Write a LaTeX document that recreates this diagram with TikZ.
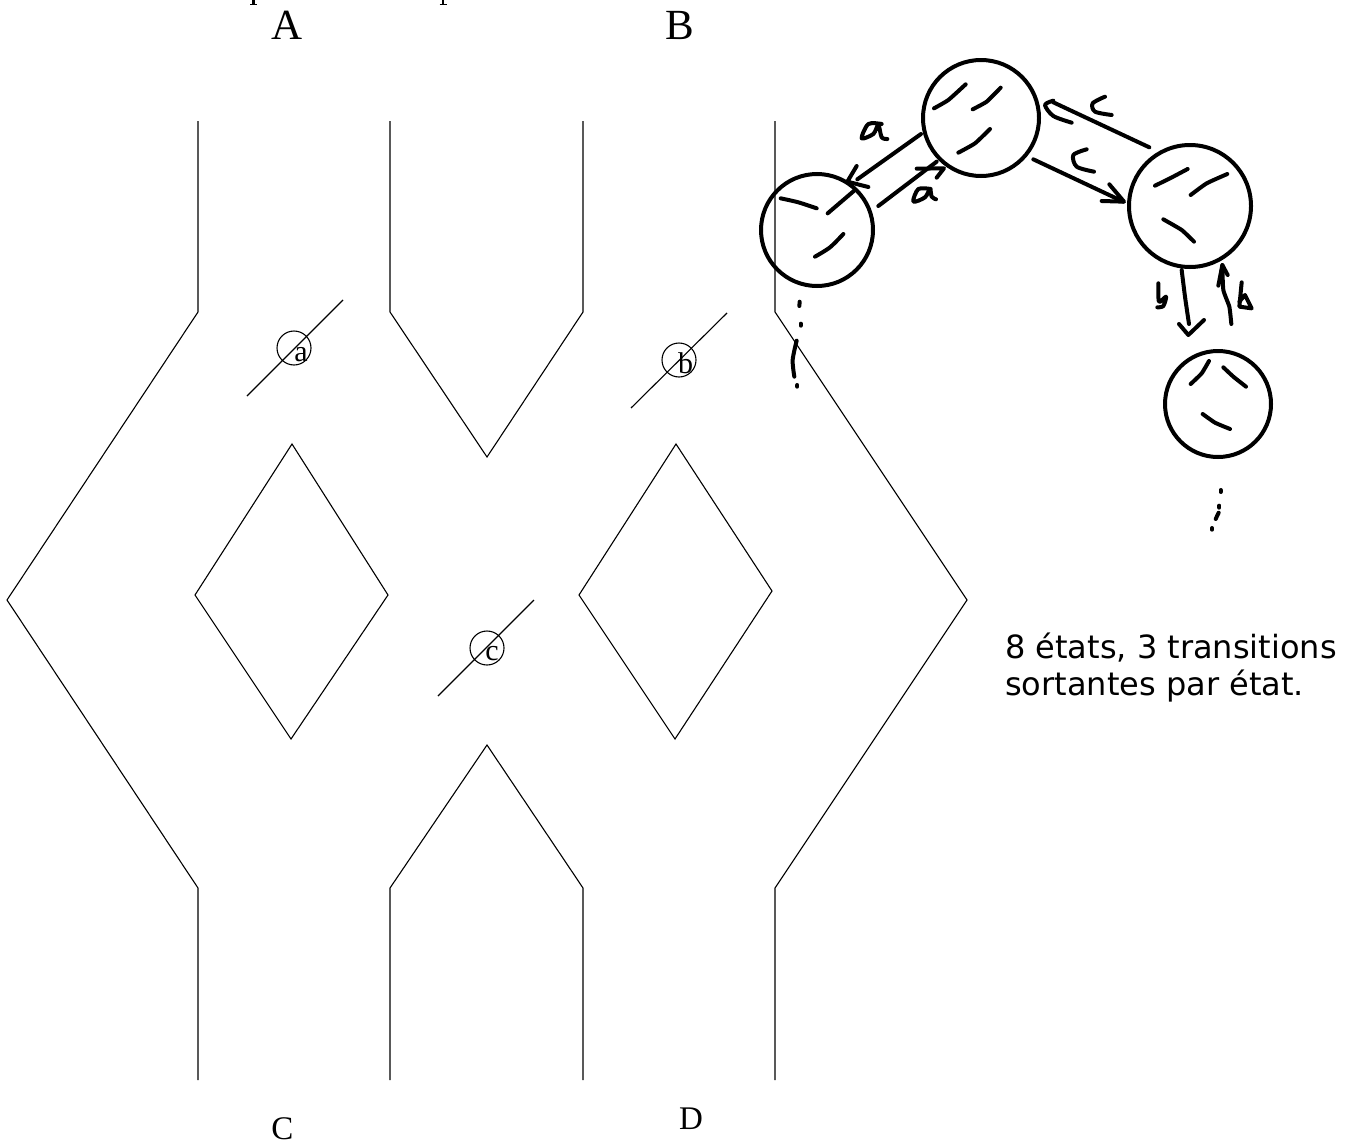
\documentclass[tikz,border=0pt]{standalone}
\usepackage{fontspec}
\setmainfont{Liberation Serif}
\newfontfamily\sansf{DejaVu Sans}
\tikzset{
  wall/.style={line width=1.1pt,line join=miter},
  hand/.style={line width=4pt,line cap=round,line join=round},
  state/.style={draw,circle,line width=4pt,inner sep=0pt},
  bigl/.style={anchor=base,inner sep=0pt,font=\fontsize{43}{43}\selectfont},
  midl/.style={anchor=base,inner sep=0pt,font=\fontsize{33}{33}\selectfont},
  sigl/.style={anchor=base,inner sep=0pt,font=\fontsize{30}{30}\selectfont},
  ring/.style={draw,circle,line width=1.1pt,minimum size=34pt,inner sep=0pt},
  note/.style={anchor=base west,inner sep=0pt,align=left,font=\sansf\fontsize{32}{37}\selectfont},
}
\begin{document}
\begin{tikzpicture}[x=1pt,y=-1pt]
\useasboundingbox (0,0) rectangle (1355,1143);
% cut-off feet of the top line
\draw[line width=2.6pt] (253.5,0) -- (253.5,4);
\draw[line width=1.1pt] (250,4.5) -- (257,4.5);
\draw[line width=2.6pt] (443,0) -- (443,4);
\draw[line width=1.1pt] (439.5,4.5) -- (446.5,4.5);
% walls
\draw[wall] (198,121) -- (198,312) -- (7,600) -- (198,888) -- (198,1080);
\draw[wall] (390,121) -- (390,312) -- (487,457) -- (583,312) -- (583,121);
\draw[wall] (775,121) -- (775,312) -- (967,600) -- (775,888) -- (775,1080);
\draw[wall] (390,1080) -- (390,888) -- (487,745) -- (583,888) -- (583,1080);
\draw[wall] (292,444) -- (388,595) -- (291,739) -- (195,595) -- cycle;
\draw[wall] (676,444) -- (772,591) -- (675,739) -- (579,595) -- cycle;
% switches
\node[ring] (ra) at (294,348) {};
\node[ring] (rb) at (679,360) {};
\node[ring] (rc) at (487,648) {};
\coordinate (a1) at (343,300); \coordinate (a2) at (247,396);
\coordinate (b1) at (727,313); \coordinate (b2) at (631,408);
\coordinate (c1) at (534,600); \coordinate (c2) at (438,696);
\draw[wall] (a1) -- (a2);
\draw[wall] (b1) -- (b2);
\draw[wall] (c1) -- (c2);
\node[sigl] (la) at (301,361) {a};
\node[sigl] (lb) at (685.5,373) {b};
\node[sigl] (lc) at (492,660) {c};
% port labels
\node[bigl] (pa) at (287,39) {A};
\node[bigl] (pb) at (680,39) {B};
\node[midl] (pc) at (282.5,1139.5) {C};
\node[midl] (pd) at (691,1129) {D};
% note
\node[note] (nt) at (1005,695) {8 états, 3 transitions\\sortantes par état.};
% states
\node[state,minimum size=112pt] (s1) at (817,230) {};
\node[state,minimum size=116pt] (s2) at (981,118) {};
\node[state,minimum size=122pt] (s3) at (1190,206) {};
\node[state,minimum size=106pt] (s4) at (1218,404) {};
% hand drawing, zoom 1 frame
\begin{scope}[shift={(740,40)},scale=1/3]
\draw[hand] plot[smooth] coordinates {(122,475) (175,487) (230,505)};
\draw[hand] (263,520) -- (345,450);
\draw[hand] plot[smooth] coordinates {(225,650) (270,622) (310,582)};
\draw[hand] (543,282) -- (352,418);
\draw[hand] (350,378) -- (322,425) -- (385,441);
\draw[hand] (415,498) -- (590,365);
\draw[hand] (530,386) -- (612,385) -- (590,413);
\draw[hand] plot[smooth] coordinates {(425,252) (385,252) (365,295) (400,282) (415,255) (425,292) (442,297)};
\draw[hand] plot[smooth] coordinates {(572,447) (535,447) (520,485) (555,472) (570,447) (575,470) (588,478)};
\draw[hand] (179,785) -- (178,798);
\draw[hand] (182,851) -- (182,857);
\draw[hand] plot[smooth] coordinates {(170,902) (158,960) (163,1010)};
\draw[hand] (172,1035) -- (172,1040);
\draw[hand] plot[smooth,tension=0.3] coordinates {(582,205) (625,180) (677,133)};
\draw[hand] plot[smooth,tension=0.3] coordinates {(698,208) (740,185) (782,143)};
\draw[hand] plot[smooth,tension=0.3] coordinates {(655,338) (705,310) (750,267)};
\end{scope}
% zoom 7 frame
\begin{scope}[shift={(1020,90)},scale=1/3]
\draw[hand] (388,172) -- (100,37);
\draw[hand] plot[smooth] coordinates {(155,98) (100,78) (75,45) (100,32)};
\draw[hand] plot[smooth] coordinates {(255,20) (218,40) (225,65) (275,75)};
\draw[hand] (40,208) -- (310,335);
\draw[hand] (268,283) -- (312,335) -- (245,333);
\draw[hand] plot[smooth] coordinates {(200,178) (160,195) (170,230) (222,245)};
\end{scope}
% zoom 2 frame
\begin{scope}[shift={(1100,120)},scale=1/3]
\draw[hand] plot[smooth,tension=0.3] coordinates {(165,197) (210,175) (263,147)};
\draw[hand] plot[smooth,tension=0.3] coordinates {(272,225) (320,190) (382,162)};
\draw[hand] plot[smooth,tension=0.3] coordinates {(190,298) (245,330) (282,365)};
\draw[hand] plot[smooth] coordinates {(245,450) (255,530) (267,612)};
\draw[hand] (237,612) -- (265,645) -- (312,600);
\draw[hand] plot[smooth,tension=0.3] coordinates {(394,612) (388,560) (370,510) (367,435)};
\draw[hand] (355,497) -- (367,435) -- (383,465);
\draw[hand] plot[smooth] coordinates {(175,490) (177,545) (198,530) (190,558) (172,562)};
\draw[hand] (425,487) -- (418,560) -- (455,565) -- (435,525) -- (418,545);
\draw[hand] plot[smooth,tension=0.3] coordinates {(327,723) (305,760) (272,792)};
\draw[hand] plot[smooth,tension=0.3] coordinates {(370,742) (400,770) (438,800)};
\draw[hand] plot[smooth,tension=0.3] coordinates {(308,882) (345,908) (390,927)};
\draw[hand] (362,1110) -- (362,1116);
\draw[hand] (358,1157) -- (358,1163);
\draw[hand] (356,1178) -- (347,1197);
\draw[hand] (336,1224) -- (336,1229);
\end{scope}
\end{tikzpicture}
\end{document}
